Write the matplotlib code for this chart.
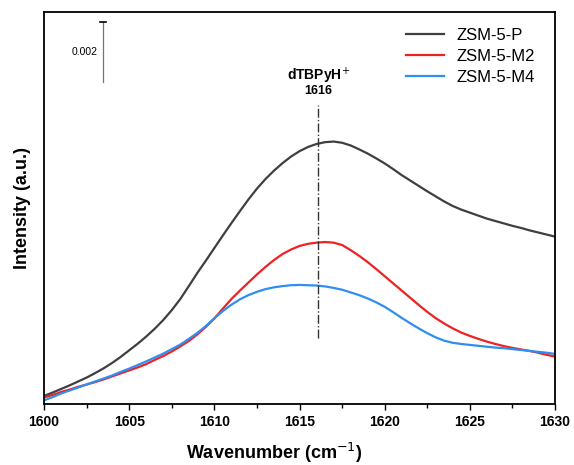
"""FTIR spectra of dTBPyH+ band on ZSM-5 samples."""

import matplotlib

matplotlib.use("Agg")

import matplotlib.pyplot as plt
from matplotlib.ticker import MultipleLocator

plt.rcParams["font.family"] = ["Liberation Sans", "DejaVu Sans"]

# wavenumber grid (cm-1), 0.5 cm-1 steps from 1600 to 1630
WAVENUMBER = [1600 + 0.5 * i for i in range(61)]

# intensities in units of 1e-3 a.u.
INT_P = [0.27, 0.38, 0.50, 0.62, 0.75, 0.88, 1.03, 1.19, 1.37, 1.57,
         1.79, 2.01, 2.25, 2.51, 2.80, 3.13, 3.50, 3.93, 4.37, 4.78,
         5.20, 5.62, 6.03, 6.43, 6.82, 7.18, 7.50, 7.78, 8.03, 8.25,
         8.43, 8.57, 8.67, 8.73, 8.75, 8.71, 8.62, 8.49, 8.35, 8.19,
         8.02, 7.83, 7.63, 7.45, 7.27, 7.09, 6.92, 6.75, 6.60, 6.48,
         6.38, 6.28, 6.18, 6.10, 6.02, 5.94, 5.87, 5.79, 5.72, 5.65, 5.58]

INT_M2 = [0.22, 0.30, 0.40, 0.48, 0.57, 0.65, 0.73, 0.82, 0.92, 1.02,
          1.12, 1.22, 1.33, 1.47, 1.60, 1.75, 1.92, 2.10, 2.32, 2.57,
          2.85, 3.18, 3.50, 3.78, 4.05, 4.32, 4.57, 4.80, 5.00, 5.15,
          5.27, 5.34, 5.38, 5.40, 5.38, 5.30, 5.13, 4.94, 4.73, 4.50,
          4.26, 4.02, 3.78, 3.54, 3.30, 3.07, 2.86, 2.68, 2.52, 2.38,
          2.27, 2.17, 2.08, 2.00, 1.93, 1.87, 1.82, 1.77, 1.71, 1.64, 1.58]

INT_M4 = [0.12, 0.23, 0.35, 0.45, 0.55, 0.65, 0.75, 0.85, 0.95, 1.07,
          1.18, 1.30, 1.42, 1.55, 1.68, 1.83, 1.98, 2.17, 2.37, 2.60,
          2.86, 3.10, 3.31, 3.49, 3.63, 3.74, 3.83, 3.89, 3.93, 3.96,
          3.97, 3.96, 3.95, 3.92, 3.87, 3.81, 3.72, 3.63, 3.52, 3.39,
          3.24, 3.06, 2.87, 2.69, 2.52, 2.36, 2.22, 2.11, 2.04, 2.00,
          1.97, 1.94, 1.91, 1.88, 1.86, 1.83, 1.80, 1.77, 1.74, 1.71, 1.67]

SERIES = [
    ("ZSM-5-P", INT_P, "#3f3f3f"),
    ("ZSM-5-M2", INT_M2, "#ee2222"),
    ("ZSM-5-M4", INT_M4, "#2e8ef2"),
]

PEAK = 1616.1
SCALE = 2.0  # 0.002 a.u. in 1e-3 units


def main():
    fig = plt.figure(figsize=(5.74, 4.65), dpi=100)
    ax = fig.add_axes([0.0767, 0.1312, 0.8903, 0.843])

    for label, y, color in SERIES:
        ax.plot(WAVENUMBER, [v * 1e-3 for v in y], color=color, lw=1.6,
                label=label, solid_joinstyle="round")

    ax.set_xlim(1600, 1630)
    ax.set_ylim(0, 13.07e-3)

    # peak marker
    ax.plot([PEAK, PEAK], [2.2e-3, 9.97e-3], color="#333333", lw=1.0, ls="-.")
    ax.text(PEAK, 10.95e-3, "dTBPyH$^{+}$", ha="center", va="center",
            fontsize=10, fontweight="bold")
    ax.text(PEAK, 10.45e-3, "1616", ha="center", va="center",
            fontsize=9, fontweight="bold")

    # scale bar
    bx = 1603.48
    ax.plot([bx, bx], [10.73e-3, 10.73e-3 + SCALE * 1e-3], color="#777777", lw=0.9)
    ax.plot([bx - 0.18, bx + 0.18], [12.73e-3, 12.73e-3], color="black", lw=1.2)
    ax.text(bx - 0.35, 11.73e-3, "0.002", ha="right", va="center", fontsize=7.5)

    ax.xaxis.set_major_locator(MultipleLocator(5))
    ax.xaxis.set_minor_locator(MultipleLocator(2.5))
    ax.tick_params(axis="x", which="both", direction="out", length=4, width=1.0,
                   labelsize=10, pad=4)
    ax.tick_params(axis="x", which="minor", length=3)
    ax.set_yticks([])
    for lbl in ax.get_xticklabels():
        lbl.set_fontweight("bold")
    for sp in ax.spines.values():
        sp.set_linewidth(1.3)

    ax.set_xlabel("Wavenumber (cm$^{-1}$)", fontsize=13, fontweight="bold")
    ax.xaxis.set_label_coords(0.45, -0.095)
    ax.set_ylabel("Intensity (a.u.)", fontsize=13, fontweight="bold")
    ax.yaxis.set_label_coords(-0.025, 0.5)

    ax.legend(loc="upper left", bbox_to_anchor=(0.708, 0.96), frameon=False,
              fontsize=12, handlelength=2.3, handletextpad=0.75,
              labelspacing=0.37, borderpad=0, borderaxespad=0)

    fig.savefig("out.png", dpi=100)


if __name__ == "__main__":
    main()
